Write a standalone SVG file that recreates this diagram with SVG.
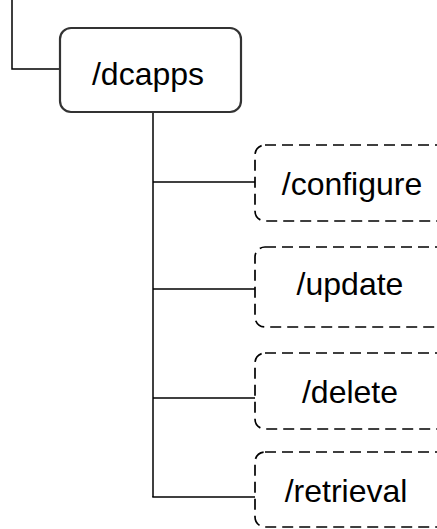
<svg xmlns="http://www.w3.org/2000/svg" width="437" height="529" viewBox="0 0 437 529">
<style>
.lbl{font-family:"Liberation Sans",Arial,sans-serif;font-size:32px;fill:#000;text-anchor:middle}
.root{fill:#fff;stroke:#333;stroke-width:2.2}
.child{fill:#fff;stroke:#000;stroke-width:1.7;stroke-dasharray:11 6}
.conn{fill:none;stroke:#000;stroke-width:1.5}
</style>
<rect width="437" height="529" fill="#fff"/>
<g id="connectors">
<polyline class="conn" points="12,0 12,69 60,69"/>
<line class="conn" x1="153" y1="112" x2="153" y2="497"/>
<line class="conn" x1="153" y1="182" x2="255" y2="182"/>
<line class="conn" x1="153" y1="289" x2="255" y2="289"/>
<line class="conn" x1="153" y1="398" x2="255" y2="398"/>
<line class="conn" x1="152.25" y1="497" x2="255" y2="497"/>
</g>
<g id="dcapps">
<rect class="root" x="60" y="28" width="181" height="84" rx="11"/>
<text class="lbl" x="148" y="85">/dcapps</text>
</g>
<g id="configure">
<rect class="child" x="255" y="145" width="195" height="76" rx="10"/>
<text class="lbl" x="352" y="195">/configure</text>
</g>
<g id="update">
<rect class="child" x="255" y="247" width="195" height="80" rx="10"/>
<text class="lbl" x="350" y="295">/update</text>
</g>
<g id="delete">
<rect class="child" x="255" y="353" width="195" height="76" rx="10"/>
<text class="lbl" x="350" y="403">/delete</text>
</g>
<g id="retrieval">
<rect class="child" x="255" y="452" width="195" height="75" rx="10"/>
<text class="lbl" x="346" y="502">/retrieval</text>
</g>
</svg>
